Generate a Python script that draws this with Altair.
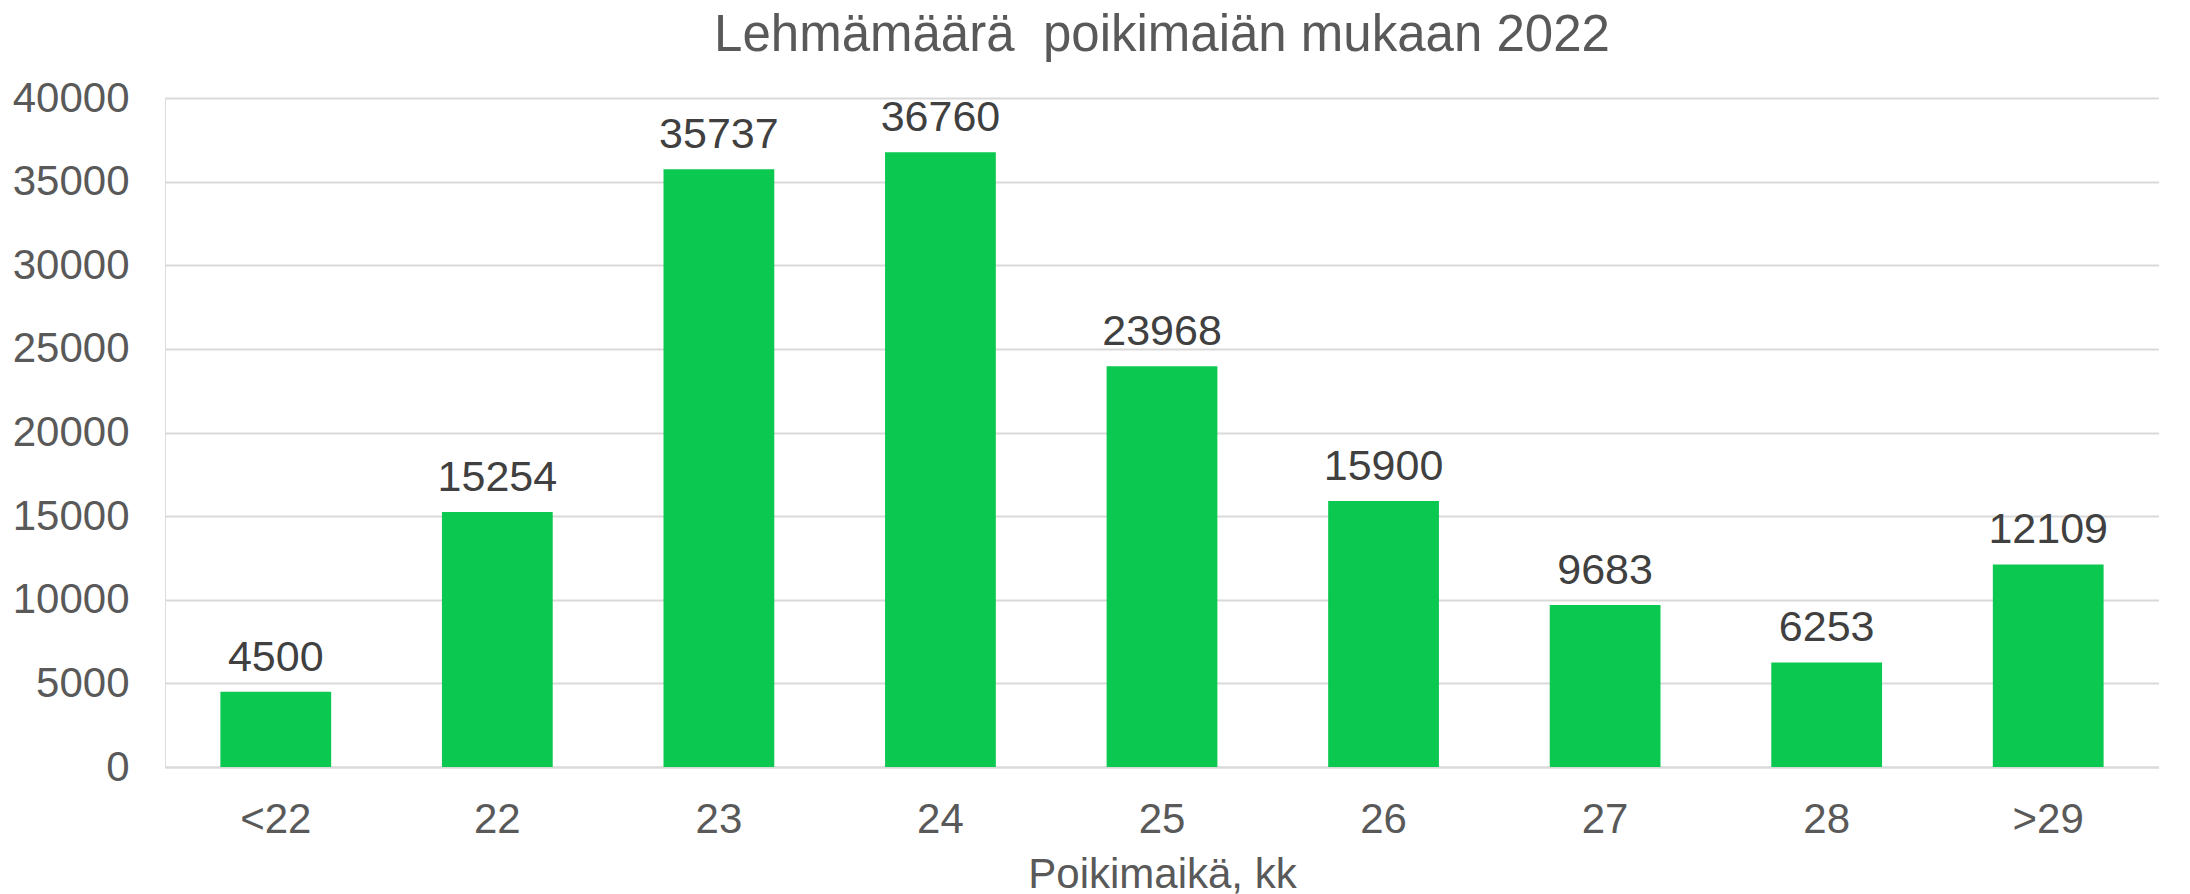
import altair as alt
import pandas as pd

categories = ["<22", "22", "23", "24", "25", "26", "27", "28", ">29"]
values = [4500, 15254, 35737, 36760, 23968, 15900, 9683, 6253, 12109]
y_ticks = [0, 5000, 10000, 15000, 20000, 25000, 30000, 35000, 40000]

df = pd.DataFrame({"kk": categories, "n": values})

FONT = "Liberation Sans"

x = alt.X(
    "kk:N",
    sort=categories,
    title="Poikimaikä, kk",
    scale=alt.Scale(paddingInner=0.5, paddingOuter=0.25),
    axis=alt.Axis(
        labelAngle=0, labelFontSize=42, labelColor="#595959", labelFont=FONT,
        labelPadding=32, domain=True, domainColor="#d9d9d9", domainWidth=2,
        ticks=False, tickSize=0, grid=False,
        titleFontSize=42, titleFont=FONT, titleColor="#595959",
        titleFontWeight="normal", titlePadding=14,
    ),
)
y = alt.Y(
    "n:Q",
    title=None,
    scale=alt.Scale(domain=[0, 40000], nice=False),
    axis=alt.Axis(
        values=y_ticks, format="d", labelFontSize=42, labelColor="#595959",
        labelFont=FONT, labelPadding=36, domain=False, ticks=False, tickSize=0,
        grid=True, gridColor="#d9d9d9", gridWidth=2,
    ),
)

bars = alt.Chart(df).mark_bar(color="#0BC850").encode(x=x, y=y)
labels = alt.Chart(df).mark_text(
    dy=-21, baseline="alphabetic", fontSize=43, font=FONT, color="#404040"
).encode(x=alt.X("kk:N", sort=categories), y="n:Q", text="n:Q")

chart = (
    alt.layer(bars, labels)
    .properties(
        width=1994,
        height=669,
        padding={"left": 4, "top": 2, "right": 0, "bottom": 0},
        title=alt.TitleParams(
            "Lehmämäärä\u00a0 poikimaiän mukaan 2022",
            fontSize=51, font=FONT, color="#595959", fontWeight="normal",
            anchor="middle", offset=15,
        ),
    )
    .configure_view(stroke=None)
    .configure(background="white")
)

chart.save("out.html", embed_options={"renderer": "svg", "actions": False})
